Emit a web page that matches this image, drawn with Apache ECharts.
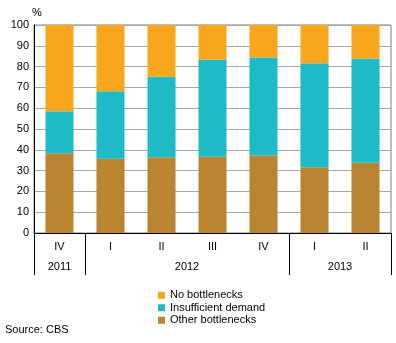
<!DOCTYPE html>
<html>
<head>
<meta charset="utf-8">
<script src="https://cdn.jsdelivr.net/npm/echarts@6/dist/echarts.min.js"></script>
<style>
  html, body { margin: 0; padding: 0; background: #fff; }
  #chart { width: 396px; height: 343px; }
</style>
</head>
<body>
<div id="chart"></div>
<script>
// Quarter and year of each bar
const quarters = ['IV', 'I', 'II', 'III', 'IV', 'I', 'II'];
const years = ['2011', '2012', '2012', '2012', '2012', '2013', '2013'];

// Shares of firms (%), stacked from the bottom up
const otherBottlenecks = [38.3, 35.7, 36.4, 36.7, 37.3, 31.6, 33.8];
const insufficientDemand = [20.2, 32.4, 38.7, 46.6, 47.1, 50.0, 50.0];
const noBottlenecks = [41.5, 31.9, 24.9, 16.7, 15.6, 18.4, 16.2];

const yTicks = [0, 10, 20, 30, 40, 50, 60, 70, 80, 90, 100];

const FONT = '"Liberation Sans", Arial, sans-serif';
const COLORS = { no: '#F9A61F', insufficient: '#1EBAC5', other: '#BA8532' };

const GRID = { left: 34, right: 5, top: 25, bottom: 110 };
const chartWidth = 396;
const bandWidth = (chartWidth - GRID.left - GRID.right) / quarters.length;

// Year groups: label sits at the middle of each run of quarters
const yearLabelAt = {};
let start = 0;
for (let i = 1; i <= years.length; i++) {
  if (i === years.length || years[i] !== years[start]) {
    const sum = start + (i - 1);
    yearLabelAt[Math.floor(sum / 2)] = { year: years[start], shifted: sum % 2 === 1 };
    start = i;
  }
}

const isYearStart = (idx) => idx === 0 || years[idx] !== years[idx - 1];

const chart = echarts.init(document.getElementById('chart'), null, { renderer: 'canvas' });

chart.setOption({
  animation: false,
  textStyle: { fontFamily: FONT },
  grid: Object.assign({ show: true, borderColor: '#808080', borderWidth: 1, backgroundColor: 'transparent' }, GRID),
  legend: {
    orient: 'vertical',
    left: 158,
    top: 289,
    padding: 0,
    icon: 'rect',
    itemWidth: 7,
    itemHeight: 7,
    itemGap: 0,
    itemTextGap: 3,
    data: ['No bottlenecks', 'Insufficient demand', 'Other bottlenecks'],
    textStyle: { fontFamily: FONT, fontSize: 11, color: '#000', lineHeight: 12.5 }
  },
  title: {
    text: 'Source: CBS',
    left: 5,
    top: 324,
    padding: 0,
    textStyle: { fontFamily: FONT, fontSize: 11, fontWeight: 'normal', color: '#000' }
  },
  xAxis: [
    {
      type: 'category',
      data: quarters.map((q, i) => years[i] + ' ' + q),
      axisLine: { lineStyle: { color: '#000', width: 1 } },
      axisTick: {
        show: true,
        interval: (idx) => isYearStart(idx),
        length: 42,
        lineStyle: { color: '#000', width: 1 }
      },
      axisLabel: {
        interval: 0,
        margin: 8,
        fontFamily: FONT,
        fontSize: 11,
        color: '#000',
        formatter: (v) => v.split(' ')[1]
      },
      splitLine: { show: false }
    },
    {
      type: 'category',
      position: 'bottom',
      offset: 20,
      data: quarters.map((q, i) => years[i] + ' ' + q),
      axisLine: { show: false },
      axisTick: { show: false },
      axisLabel: {
        interval: 0,
        margin: 8,
        fontFamily: FONT,
        fontSize: 11,
        color: '#000',
        formatter: (v, idx) => {
          const g = yearLabelAt[idx];
          if (!g) return '';
          return g.shifted ? '{s|' + g.year + '}' : g.year;
        },
        rich: {
          s: { fontFamily: FONT, fontSize: 11, color: '#000', padding: [0, 0, 0, bandWidth] }
        }
      }
    }
  ],
  yAxis: {
    type: 'value',
    min: yTicks[0],
    max: yTicks[yTicks.length - 1],
    interval: yTicks[1] - yTicks[0],
    name: '%',
    nameLocation: 'end',
    nameGap: 7,
    nameTextStyle: { fontFamily: FONT, fontSize: 11, color: '#000', align: 'left', padding: [0, 0, 0, -2] },
    axisLine: { show: true, lineStyle: { color: '#000', width: 1 } },
    axisTick: { show: false },
    axisLabel: { margin: 5, fontFamily: FONT, fontSize: 11, color: '#000' },
    splitLine: { lineStyle: { color: '#A6A6A6', width: 1 } }
  },
  series: [
    {
      name: 'Other bottlenecks',
      type: 'bar',
      stack: 'total',
      barWidth: '55%',
      itemStyle: { color: COLORS.other },
      data: otherBottlenecks
    },
    {
      name: 'Insufficient demand',
      type: 'bar',
      stack: 'total',
      barWidth: '55%',
      itemStyle: { color: COLORS.insufficient },
      data: insufficientDemand
    },
    {
      name: 'No bottlenecks',
      type: 'bar',
      stack: 'total',
      barWidth: '55%',
      itemStyle: { color: COLORS.no },
      data: noBottlenecks
    }
  ]
});
</script>
</body>
</html>
